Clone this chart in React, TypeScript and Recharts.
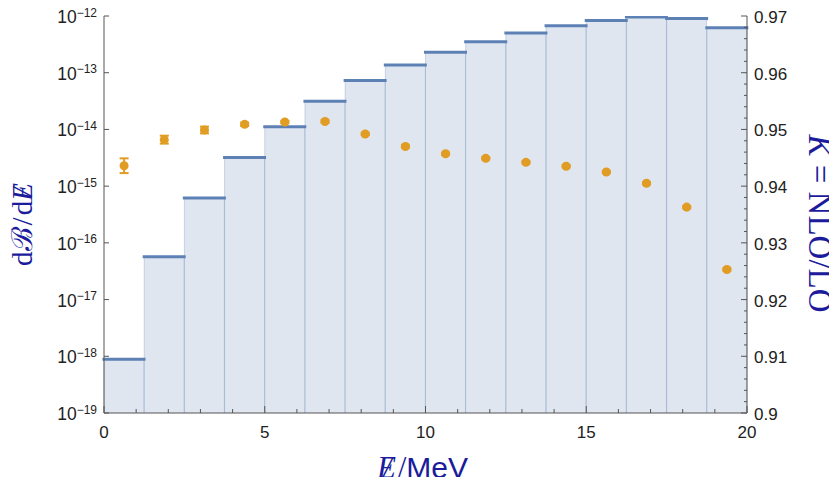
import React from "react";
import { ComposedChart, Bar, Scatter, ErrorBar, XAxis, YAxis, Label } from "recharts";

// bins of 1.25 MeV, value at bin centre
const BIN_CENTERS = [
  0.625, 1.875, 3.125, 4.375, 5.625, 6.875, 8.125, 9.375,
  10.625, 11.875, 13.125, 14.375, 15.625, 16.875, 18.125, 19.375,
];
const DB_DE = [
  8.9e-19, 5.7e-17, 6.2e-16, 3.2e-15, 1.12e-14, 3.14e-14, 7.3e-14, 1.37e-13,
  2.3e-13, 3.5e-13, 5.0e-13, 6.7e-13, 8.3e-13, 9.6e-13, 9.0e-13, 6.2e-13,
];
const K_FACTOR = [
  0.9436, 0.9482, 0.9499, 0.9509, 0.9513, 0.9514, 0.9492, 0.947,
  0.9457, 0.9449, 0.9442, 0.9435, 0.9425, 0.9405, 0.9363, 0.9253,
];
const K_ERROR = [
  0.0013, 0.0007, 0.0006, 0.0003, 0.0002, 0.0002, 0.0002, 0.0002,
  0.0002, 0.0002, 0.0002, 0.0002, 0.0002, 0.0002, 0.0002, 0.0002,
];

const X_TICKS = [0, 1, 2, 3, 4, 5, 6, 7, 8, 9, 10, 11, 12, 13, 14, 15, 16, 17, 18, 19, 20];
const X_LABELS = [0, 5, 10, 15, 20];
const DB_TICKS = [1e-19, 1e-18, 1e-17, 1e-16, 1e-15, 1e-14, 1e-13, 1e-12];
const K_LABELS = [0.9, 0.91, 0.92, 0.93, 0.94, 0.95, 0.96, 0.97];
const K_TICKS = Array.from({ length: 36 }, (_, i) => Math.round((0.9 + i * 0.002) * 1000) / 1000);

const data = BIN_CENTERS.map((x, i) => ({
  x,
  dB: DB_DE[i],
  k: K_FACTOR[i],
  kErr: K_ERROR[i],
}));

const BLUE = "#5e81b5";
const ORANGE = "#e19c24";
const AXIS = "#555555";
const TITLE = "#1b1b9c";
const SANS = "'Liberation Sans', Arial, sans-serif";
const SERIF = "'Liberation Serif', 'Times New Roman', serif";

function BinShape(props: any) {
  const { x, y, width, height } = props;
  return (
    <g>
      <rect x={x} y={y} width={width} height={height} fill={BLUE} fillOpacity={0.2} />
      <line x1={x} y1={y} x2={x} y2={y + height} stroke={BLUE} strokeOpacity={0.28} />
      <line x1={x + width} y1={y} x2={x + width} y2={y + height} stroke={BLUE} strokeOpacity={0.28} />
      <line x1={x} y1={y} x2={x + width} y2={y} stroke={BLUE} strokeWidth={3} strokeLinecap="square" />
    </g>
  );
}

function XTick({ x, y, payload }: any) {
  const major = X_LABELS.includes(payload.value);
  return (
    <g>
      <line x1={x} y1={y} x2={x} y2={y - (major ? 7 : 4)} stroke={AXIS} />
      {major && (
        <text x={x} y={y + 25} textAnchor="middle" fontSize={17} fontFamily={SANS} fill="#222">
          {payload.value}
        </text>
      )}
    </g>
  );
}

function LeftTick({ x, y, payload }: any) {
  const exp = Math.round(Math.log10(payload.value));
  return (
    <g>
      <line x1={x} y1={y} x2={x + 5} y2={y} stroke={AXIS} />
      <text x={x - 7} y={y + 7} textAnchor="end" fontSize={17.5} fontFamily={SANS} fill="#222">
        <tspan>10</tspan>
        <tspan dy={-6.5} fontSize={12}>{`\u2212${-exp}`}</tspan>
      </text>
    </g>
  );
}

function RightTick({ x, y, payload }: any) {
  const major = K_LABELS.some((v) => Math.abs(v - payload.value) < 1e-6);
  return (
    <g>
      <line x1={x} y1={y} x2={x - (major ? 6 : 3)} y2={y} stroke={AXIS} />
      {major && (
        <text x={x + 7} y={y + 7} textAnchor="start" fontSize={17} fontFamily={SANS} fill="#222">
          {String(payload.value)}
        </text>
      )}
    </g>
  );
}

const leftTitle = ({ viewBox }: any) => {
  const cx = viewBox.x + 32;
  const cy = viewBox.y + viewBox.height / 2 + 10;
  return (
    <text
      x={cx}
      y={cy}
      transform={`rotate(-90 ${cx} ${cy})`}
      textAnchor="middle"
      fontFamily={SERIF}
      fontSize={29}
      fill={TITLE}
    >
      <tspan>d</tspan>
      <tspan>{"\u212C"}</tspan>
      <tspan dx={2}>/</tspan>
      <tspan dx={2}>d</tspan>
      <tspan fontStyle="italic">E</tspan>
      <tspan dx={-13} fontStyle="italic">/</tspan>
    </text>
  );
};

const rightTitle = ({ viewBox }: any) => {
  const cx = viewBox.x + 62;
  const cy = viewBox.y + viewBox.height / 2 + 9;
  return (
    <text
      x={cx}
      y={cy}
      transform={`rotate(90 ${cx} ${cy})`}
      textAnchor="middle"
      fontFamily={SERIF}
      fontSize={33}
      fill={TITLE}
    >
      <tspan fontStyle="italic">K</tspan>
      <tspan>{" = NLO/LO"}</tspan>
    </text>
  );
};

const xTitle = ({ viewBox }: any) => {
  const cx = viewBox.x + viewBox.width / 2 - 3;
  const cy = viewBox.y + 65;
  return (
    <text x={cx} y={cy} textAnchor="middle" fill={TITLE}>
      <tspan fontFamily={SERIF} fontStyle="italic" fontSize={31}>E</tspan>
      <tspan dx={-13} fontFamily={SERIF} fontStyle="italic" fontSize={31}>/</tspan>
      <tspan dx={6} fontFamily={SERIF} fontSize={31}>/</tspan>
      <tspan fontFamily={SANS} fontSize={30}>MeV</tspan>
    </text>
  );
};

export default function App() {
  return (
    <div style={{ margin: -8 }}>
      <ComposedChart
        width={837}
        height={485}
        data={data}
        margin={{ top: 16, right: 0, bottom: 0, left: 0 }}
        barCategoryGap={0}
        barGap={0}
      >
        <Bar yAxisId="left" dataKey="dB" shape={<BinShape />} isAnimationActive={false} />
        <Scatter yAxisId="right" dataKey="k" fill={ORANGE} isAnimationActive={false}>
          <ErrorBar dataKey="kErr" direction="y" width={4.5} stroke={ORANGE} strokeWidth={2} isAnimationActive={false} />
        </Scatter>
        <XAxis
          dataKey="x"
          type="number"
          domain={[0, 20]}
          ticks={X_TICKS}
          interval={0}
          height={72}
          tickLine={false}
          tickSize={0}
          tickMargin={0}
          tick={<XTick />}
          axisLine={{ stroke: AXIS }}
        >
          <Label content={xTitle} />
        </XAxis>
        <YAxis
          yAxisId="left"
          orientation="left"
          scale="log"
          type="number"
          domain={[1e-19, 1e-12]}
          allowDataOverflow
          ticks={DB_TICKS}
          interval={0}
          width={104}
          tickLine={false}
          tickSize={0}
          tickMargin={0}
          tick={<LeftTick />}
          axisLine={{ stroke: AXIS }}
        >
          <Label content={leftTitle} />
        </YAxis>
        <YAxis
          yAxisId="right"
          orientation="right"
          type="number"
          domain={[0.9, 0.97]}
          allowDataOverflow
          ticks={K_TICKS}
          interval={0}
          width={90}
          tickLine={false}
          tickSize={0}
          tickMargin={0}
          tick={<RightTick />}
          axisLine={{ stroke: AXIS }}
        >
          <Label content={rightTitle} />
        </YAxis>
      </ComposedChart>
    </div>
  );
}
